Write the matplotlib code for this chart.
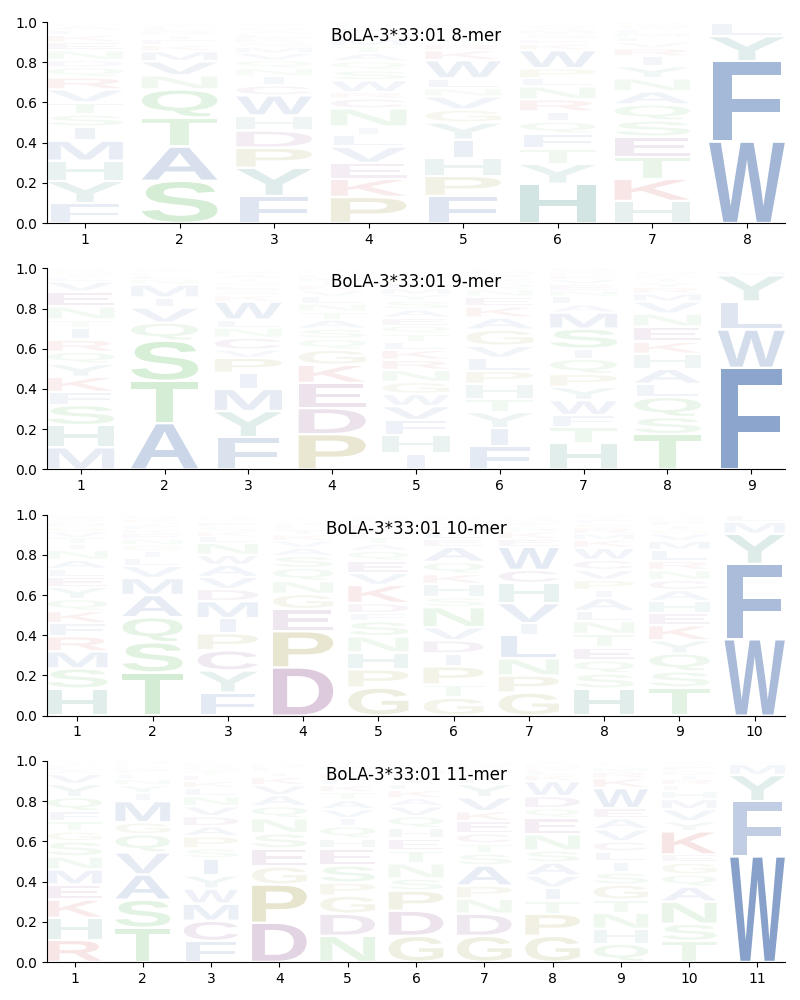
import matplotlib
matplotlib.use('Agg')
import matplotlib.pyplot as plt
from matplotlib.textpath import TextPath
from matplotlib.patches import PathPatch
from matplotlib.font_manager import FontProperties
from matplotlib.transforms import Affine2D

allele = 'BoLA-3*33:01'

# letters per position, listed bottom to top, with their heights
mer8_letters = ["FYHMISTVRQDNEKLAGW", "SATQNVMKEIRLFYG", "FYPDHWCINQVMSKEARLTG",
                "PKEVLINCRWSQATMGFYHD", "FPHIYGVNLWKRSTQEMAD", "HYTFQIRNLPWKESMVAGD",
                "HKTESQANYIRVLMFWGD", "WFYLM"]
mer8_heights = [
    [.10, .11, .10, .10, .07, .06, .06, .065, .06, .05, .035, .05, .04, .035, .025, .02, .015, .005],
    [.21, .17, .145, .14, .07, .07, .05, .03, .03, .02, .02, .015, .01, .01, .01],
    [.135, .14, .10, .085, .075, .10, .05, .045, .04, .04, .035, .03, .025, .02, .02, .015, .01, .01, .015, .01],
    [.13, .09, .08, .08, .06, .04, .09, .05, .03, .06, .05, .045, .04, .035, .035, .03, .025, .01, .01, .01],
    [.135, .10, .09, .09, .085, .065, .065, .04, .05, .09, .05, .03, .025, .02, .02, .015, .015, .01, .005],
    [.195, .10, .075, .075, .06, .05, .06, .065, .04, .05, .09, .03, .025, .025, .02, .015, .01, .01, .005],
    [.11, .11, .11, .10, .08, .08, .065, .065, .06, .05, .04, .03, .025, .02, .02, .015, .01, .01],
    [.405, .40, .125, .065, .005],
]

mer9_letters = ["MHSFKYQRITNEVLAGDW", "ATSQVIMNLEGK", "FYMIPVCNLWKSEQTARHG",
                "PDEKGQSATNLVRIMHYFWC", "IHFVWGNRKLTQEASYMDPC", "FIYTHPLVGAKENQSRMWD",
                "HTFWYPQISMALNEVKRGD", "TSQLAHKENVMRYIGFDWPC", "FWLYMIV"]
mer9_heights = [
    [.11, .11, .10, .065, .075, .065, .06, .06, .06, .04, .065, .075, .05, .02, .015, .015, .01, .005],
    [.23, .21, .20, .09, .075, .05, .065, .025, .02, .015, .01, .01],
    [.16, .13, .11, .08, .075, .04, .06, .05, .04, .09, .03, .025, .02, .02, .02, .02, .015, .01, .005],
    [.175, .13, .125, .09, .075, .055, .05, .045, .04, .04, .035, .03, .025, .02, .02, .015, .01, .01, .005, .005],
    [.08, .09, .075, .07, .06, .06, .06, .05, .05, .04, .04, .04, .04, .04, .045, .03, .03, .025, .02, .015],
    [.115, .09, .08, .065, .075, .065, .065, .06, .08, .06, .055, .05, .035, .03, .025, .02, .015, .01, .005],
    [.13, .08, .06, .075, .065, .065, .075, .05, .10, .08, .04, .04, .03, .03, .025, .02, .015, .01, .01],
    [.175, .085, .10, .065, .075, .075, .06, .075, .065, .06, .04, .03, .025, .02, .015, .01, .01, .005, .005, .005],
    [.505, .19, .14, .13, .02, .01, .005],
]

mer10_letters = ["HSMRFKQYELANITVGDPWC", "TSQAMVLIGNEKFYRHDP", "FYCPIMDVAWNLKSETQRG",
                 "DPEGNQSAVKTLRHYIFM", "GPHNSFDKVEQATLYRIMWC", "GTPIDVNSHKQAELRYFMWC",
                 "GPNLIVHCWEKSTMRQA", "HSQETNLAIPVCWKMRGFYD", "TSQYKEHACNRLMVGIFPDW",
                 "WFYMLI"]
mer10_heights = [
    [.135, .10, .085, .075, .065, .06, .06, .06, .05, .04, .045, .05, .03, .03, .03, .025, .02, .015, .015, .01],
    [.215, .15, .125, .11, .085, .06, .04, .035, .03, .03, .025, .02, .02, .015, .015, .01, .01, .005],
    [.115, .11, .10, .085, .075, .085, .06, .06, .06, .05, .06, .03, .025, .025, .02, .015, .01, .01, .005],
    [.24, .18, .11, .075, .065, .065, .06, .04, .035, .03, .025, .02, .015, .01, .01, .01, .005, .005],
    [.14, .09, .085, .08, .075, .04, .05, .09, .06, .06, .05, .035, .03, .025, .02, .02, .015, .015, .01, .01],
    [.09, .065, .09, .065, .065, .065, .10, .05, .065, .05, .06, .075, .04, .035, .025, .02, .015, .01, .01, .005],
    [.115, .085, .085, .115, .06, .10, .10, .065, .115, .04, .035, .025, .02, .015, .01, .01, .005],
    [.135, .075, .065, .065, .065, .065, .05, .065, .04, .05, .05, .05, .06, .04, .03, .03, .02, .02, .015, .01],
    [.14, .08, .09, .065, .075, .06, .06, .055, .05, .05, .045, .055, .045, .035, .02, .02, .02, .015, .01, .01],
    [.38, .375, .15, .06, .03, .005],
]

mer11_letters = ["RHKEMNSGTFQYVALDIPW", "TSAVQGMIYNLEKFRH", "FCMWYISPADVNLKETQRGH",
                 "DPGESNQAVKTLRHIYF", "NDGPSEHQIVATKLRYMFCW", "GDPSNTEHQVAKLIRMYFWC",
                 "GDNPASTCEKVYLIQRMHF", "GPTIVASNEQDWKLRMHYF", "QHNTGSILCVAEWKRMYFDP",
                 "TSNAQGEKYVMHLRIDFPWC", "WFYMLI"]
mer11_heights = [
    [.11, .11, .09, .075, .075, .065, .075, .05, .05, .05, .07, .065, .05, .02, .015, .01, .01, .005, .005],
    [.17, .14, .125, .11, .09, .06, .105, .04, .04, .03, .025, .02, .015, .01, .01, .01],
    [.105, .10, .085, .075, .065, .085, .05, .06, .05, .05, .05, .05, .04, .035, .03, .02, .02, .015, .01, .005],
    [.195, .19, .09, .09, .075, .075, .06, .055, .05, .04, .025, .02, .01, .01, .005, .005, .005],
    [.13, .11, .09, .065, .085, .085, .05, .06, .04, .045, .045, .04, .035, .03, .025, .02, .02, .01, .01, .005],
    [.13, .125, .10, .06, .075, .065, .06, .05, .06, .05, .04, .04, .03, .03, .025, .02, .015, .01, .01, .005],
    [.13, .11, .075, .065, .10, .06, .05, .05, .06, .05, .07, .065, .03, .025, .02, .015, .01, .01, .005],
    [.13, .11, .065, .065, .06, .065, .06, .08, .08, .05, .06, .075, .03, .02, .015, .01, .01, .01, .005],
    [.09, .075, .08, .065, .075, .06, .055, .05, .05, .06, .055, .05, .10, .05, .03, .02, .015, .01, .005, .005],
    [.105, .085, .11, .075, .06, .06, .04, .115, .05, .06, .05, .04, .03, .03, .02, .02, .02, .01, .01, .01],
    [.525, .275, .13, .055, .01, .005],
]

panels = [
    (mer8_letters, mer8_heights, '8-mer'),
    (mer9_letters, mer9_heights, '9-mer'),
    (mer10_letters, mer10_heights, '10-mer'),
    (mer11_letters, mer11_heights, '11-mer'),
]

aa_colors = {}
for aa in 'AILMFWV':
    aa_colors[aa] = '#3a64a8'
for aa in 'HY':
    aa_colors[aa] = '#3b8d85'
for aa in 'STNQ':
    aa_colors[aa] = '#52b652'
aa_colors['P'] = '#928a20'
aa_colors['G'] = '#969640'
for aa in 'DEC':
    aa_colors[aa] = '#864186'
for aa in 'KR':
    aa_colors[aa] = '#c83c3c'

font = FontProperties(family='Liberation Sans', weight='bold')
glyph_cache = {}


def glyph(ch):
    if ch not in glyph_cache:
        glyph_cache[ch] = TextPath((0, 0), ch, size=1, prop=font)
    return glyph_cache[ch]


e_width = glyph('E').get_extents().width


def draw_logo(ax, letters, heights, label):
    for pos, (col_letters, col_heights) in enumerate(zip(letters, heights), start=1):
        floor = 0.0
        for ch, h in zip(col_letters, col_heights):
            path = glyph(ch)
            ext = path.get_extents()
            gap = min(0.012, h * 0.25)
            box_h = h - gap
            box_w = 0.8 * min(1.0, ext.width / e_width)
            trans = (Affine2D().translate(-ext.x0, -ext.y0)
                     .scale(box_w / ext.width, box_h / ext.height)
                     .translate(pos - box_w / 2, floor + gap / 2))
            patch = PathPatch(trans.transform_path(path), facecolor=aa_colors[ch],
                              alpha=min(1.0, 1.15 * h), lw=0)
            ax.add_patch(patch)
            floor += h
    n = len(letters)
    ax.set_xlim(0.6, n + 0.4)
    ax.set_ylim(0, 1)
    ax.set_xticks(range(1, n + 1))
    ax.spines['top'].set_visible(False)
    ax.spines['right'].set_visible(False)
    ax.text(0.5, 0.93, allele + ' ' + label, transform=ax.transAxes,
            ha='center', va='center', fontsize=12)


fig, axes = plt.subplots(4, 1, figsize=(8, 10))
plt.subplots_adjust(left=0.059, right=0.981, top=0.978, bottom=0.038, hspace=0.225)

for ax, (letters, heights, label) in zip(axes, panels):
    draw_logo(ax, letters, heights, label)

plt.savefig('out.png', dpi=100)
